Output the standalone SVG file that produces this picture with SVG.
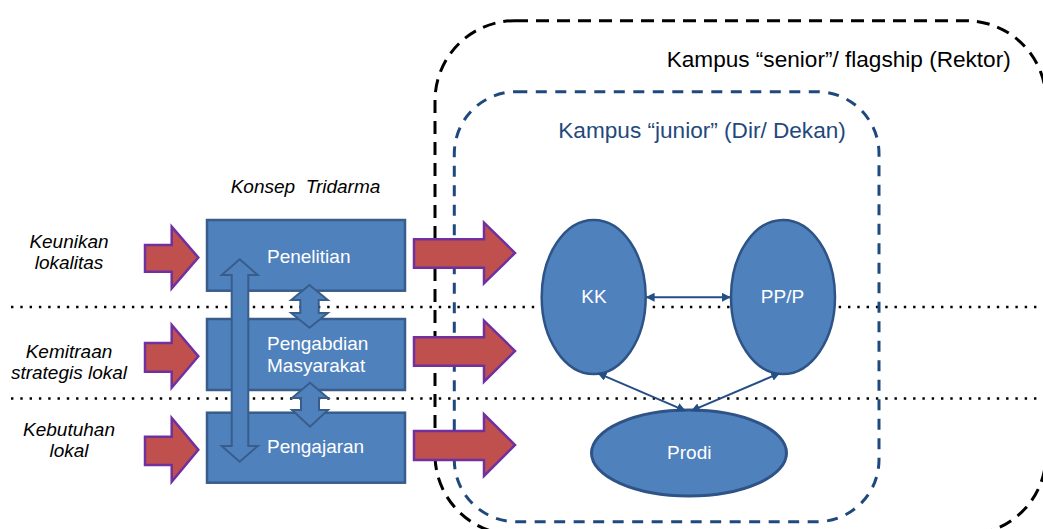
<svg xmlns="http://www.w3.org/2000/svg" width="1043" height="529" viewBox="0 0 1043 529">
<defs>
<marker id="ah" viewBox="0 0 10 10" refX="9" refY="5" markerWidth="9" markerHeight="9" markerUnits="userSpaceOnUse" orient="auto-start-reverse">
<path d="M0,0 L10,5 L0,10 Z" fill="#254E85"/>
</marker>
<style>
text{font-family:"Liberation Sans",Arial,sans-serif;}
.lbl{font-size:19px;font-style:italic;fill:#000;text-anchor:middle;}
.box{fill:#4F81BD;stroke:#385D8A;stroke-width:2.5;}
.wt{font-size:19px;fill:#fff;}
.ctr{text-anchor:middle;}
.red{fill:#C0504D;stroke:#7030A0;stroke-width:2.5;stroke-linejoin:miter;}
.dbl{fill:#4F81BD;stroke:#385D8A;stroke-width:2;}
.dot{stroke:#000;stroke-width:2.4;stroke-dasharray:2.4 6.9;fill:none;}
.ell{fill:#4F81BD;stroke:#2E5487;stroke-width:2.5;}
.con{stroke:#254E85;stroke-width:2;fill:none;marker-start:url(#ah);marker-end:url(#ah);}
</style>
</defs>
<rect width="1043" height="529" fill="#fff"/>

<g id="dotted-lines">
<line class="dot" x1="11" y1="307" x2="1043" y2="307"/>
<line class="dot" x1="11" y1="398.5" x2="1043" y2="398.5"/>
</g>

<g id="kampus-senior">
<rect x="435" y="20.7" width="611" height="514" rx="80" ry="80" fill="none" stroke="#000" stroke-width="3" stroke-dasharray="13 8"/>
<text x="666.7" y="66.7" style="font-size:22.6px;fill:#000;">Kampus “senior”/ flagship (Rektor)</text>
</g>

<g id="kampus-junior">
<rect x="454.3" y="91.7" width="424.7" height="430" rx="62" ry="62" fill="none" stroke="#1F497D" stroke-width="3" stroke-dasharray="11 8.5"/>
<text x="558.3" y="138.3" style="font-size:22.6px;fill:#1F497D;">Kampus “junior” (Dir/ Dekan)</text>
</g>

<g id="konsep-tridarma">
<text x="230.7" y="192.7" style="font-size:19px;font-style:italic;fill:#000;" xml:space="preserve">Konsep  Tridarma</text>
</g>

<g id="keunikan-lokalitas">
<text class="lbl" x="69" y="248.3">Keunikan</text>
<text class="lbl" x="69" y="269.3">lokalitas</text>
</g>
<g id="kemitraan-strategis-lokal">
<text class="lbl" x="69" y="358.3">Kemitraan</text>
<text class="lbl" x="69" y="379.3">strategis lokal</text>
</g>
<g id="kebutuhan-lokal">
<text class="lbl" x="69" y="436">Kebutuhan</text>
<text class="lbl" x="69" y="457.3">lokal</text>
</g>

<g id="arrow-in-1"><polygon class="red" points="145,245 171.7,245 171.7,226.7 198.3,257.5 171.7,288.3 171.7,271.7 145,271.7"/></g>
<g id="arrow-in-2"><polygon class="red" points="145,343 171.7,343 171.7,325 198.3,356.3 171.7,387.7 171.7,371.7 145,371.7"/></g>
<g id="arrow-in-3"><polygon class="red" points="145,436.7 171.7,436.7 171.7,418 198.3,449.8 171.7,481.7 171.7,465 145,465"/></g>

<g id="penelitian">
<rect class="box" x="207" y="220" width="198" height="70.7"/>
<text class="wt" x="267" y="262.7">Penelitian</text>
</g>
<g id="pengabdian-masyarakat">
<rect class="box" x="207" y="319" width="198" height="71"/>
<text class="wt" x="267" y="350">Pengabdian</text>
<text class="wt" x="267" y="371.7">Masyarakat</text>
</g>
<g id="pengajaran">
<rect class="box" x="207" y="412.7" width="198" height="70"/>
<text class="wt" x="267" y="453.3">Pengajaran</text>
</g>

<g id="double-arrow-tall"><polygon class="dbl" points="239.7,259.3 257.7,275 248.3,275 248.3,446 257.7,446 239.7,461.7 221.7,446 231.7,446 231.7,275 221.7,275"/></g>
<g id="double-arrow-1"><polygon class="dbl" points="309.5,285 327.8,300 318.7,300 318.7,313 327.8,313 309.5,327.7 291.2,313 300.3,313 300.3,300 291.2,300"/></g>
<g id="double-arrow-2"><polygon class="dbl" points="310,382.7 328,398 319,398 319,410 328,410 310,426.7 292,410 301,410 301,398 292,398"/></g>

<g id="arrow-out-1"><polygon class="red" points="414,239.3 484,239.3 484,222.7 515,253 484,283.3 484,267.7 414,267.7"/></g>
<g id="arrow-out-2"><polygon class="red" points="414,337.3 484,337.3 484,320.7 515,351 484,381.7 484,365.7 414,365.7"/></g>
<g id="arrow-out-3"><polygon class="red" points="414,431 484,431 484,414.3 515,445 484,476 484,460 414,460"/></g>

<g id="kk">
<ellipse class="ell" cx="593.7" cy="297" rx="52" ry="77"/>
<text class="wt ctr" x="594" y="303.3">KK</text>
</g>
<g id="ppp">
<ellipse class="ell" cx="783" cy="297" rx="52" ry="77"/>
<text class="wt ctr" x="782.5" y="303.3">PP/P</text>
</g>
<g id="prodi">
<ellipse class="ell" cx="689" cy="453" rx="97.5" ry="43" style="stroke-width:3"/>
<text class="wt ctr" x="689.3" y="459.3">Prodi</text>
</g>

<g id="connectors">
<line class="con" x1="646.5" y1="297.3" x2="730" y2="297.3"/>
<line class="con" x1="598.3" y1="373.3" x2="685" y2="410.7"/>
<line class="con" x1="779.3" y1="373.3" x2="691.7" y2="410.7"/>
</g>
</svg>
